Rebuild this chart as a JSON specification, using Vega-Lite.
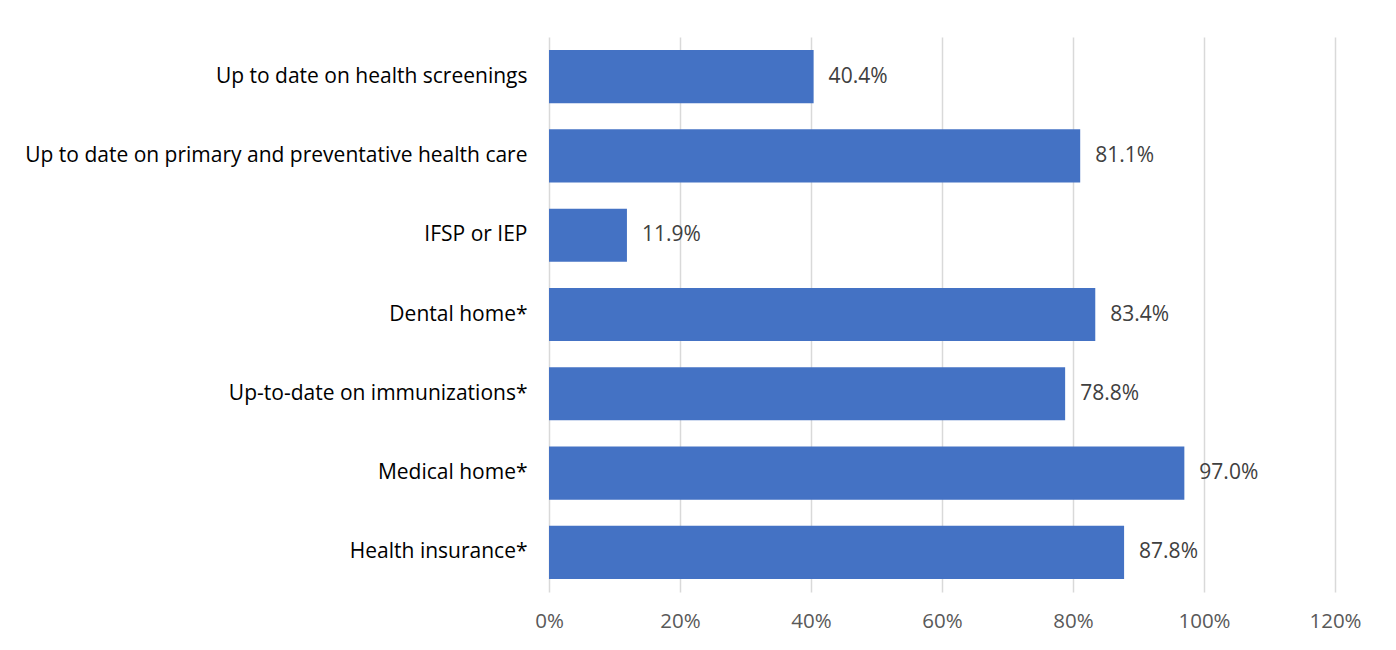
{
  "$schema": "https://vega.github.io/schema/vega-lite/v6.json",
  "width": 786,
  "height": 555,
  "autosize": {"type": "none"},
  "padding": {"left": 549, "top": 37, "right": 61, "bottom": 58},
  "background": "white",
  "config": {"view": {"stroke": null}, "font": "Open Sans"},
  "data": {
    "values": [
      {"measure": "Up to date on health screenings", "value": 0.404},
      {"measure": "Up to date on primary and preventative health care", "value": 0.811},
      {"measure": "IFSP or IEP", "value": 0.119},
      {"measure": "Dental home*", "value": 0.834},
      {"measure": "Up-to-date on immunizations*", "value": 0.788},
      {"measure": "Medical home*", "value": 0.970},
      {"measure": "Health insurance*", "value": 0.878}
    ]
  },
  "encoding": {
    "y": {
      "field": "measure",
      "type": "nominal",
      "sort": null,
      "scale": {"paddingInner": 0.33, "paddingOuter": 0.165},
      "axis": {
        "title": null,
        "domain": false,
        "ticks": false,
        "grid": false,
        "labelFontSize": 21,
        "labelColor": "#000000",
        "labelPadding": 22,
        "labelLimit": 600
      }
    },
    "x": {
      "field": "value",
      "type": "quantitative",
      "scale": {"domain": [0, 1.2], "nice": false},
      "axis": {
        "title": null,
        "format": ".0%",
        "values": [0, 0.2, 0.4, 0.6, 0.8, 1.0, 1.2],
        "domain": false,
        "ticks": false,
        "grid": true,
        "gridColor": "#d9d9d9",
        "gridWidth": 1.5,
        "labelFlush": false,
        "labelFontSize": 20.5,
        "labelColor": "#595959",
        "labelPadding": 19
      }
    }
  },
  "layer": [
    {"mark": {"type": "bar", "color": "#4472c4"}},
    {
      "mark": {"type": "text", "align": "left", "dx": 15, "fontSize": 21, "color": "#404040"},
      "encoding": {"text": {"field": "value", "type": "quantitative", "format": ".1%"}}
    }
  ]
}
